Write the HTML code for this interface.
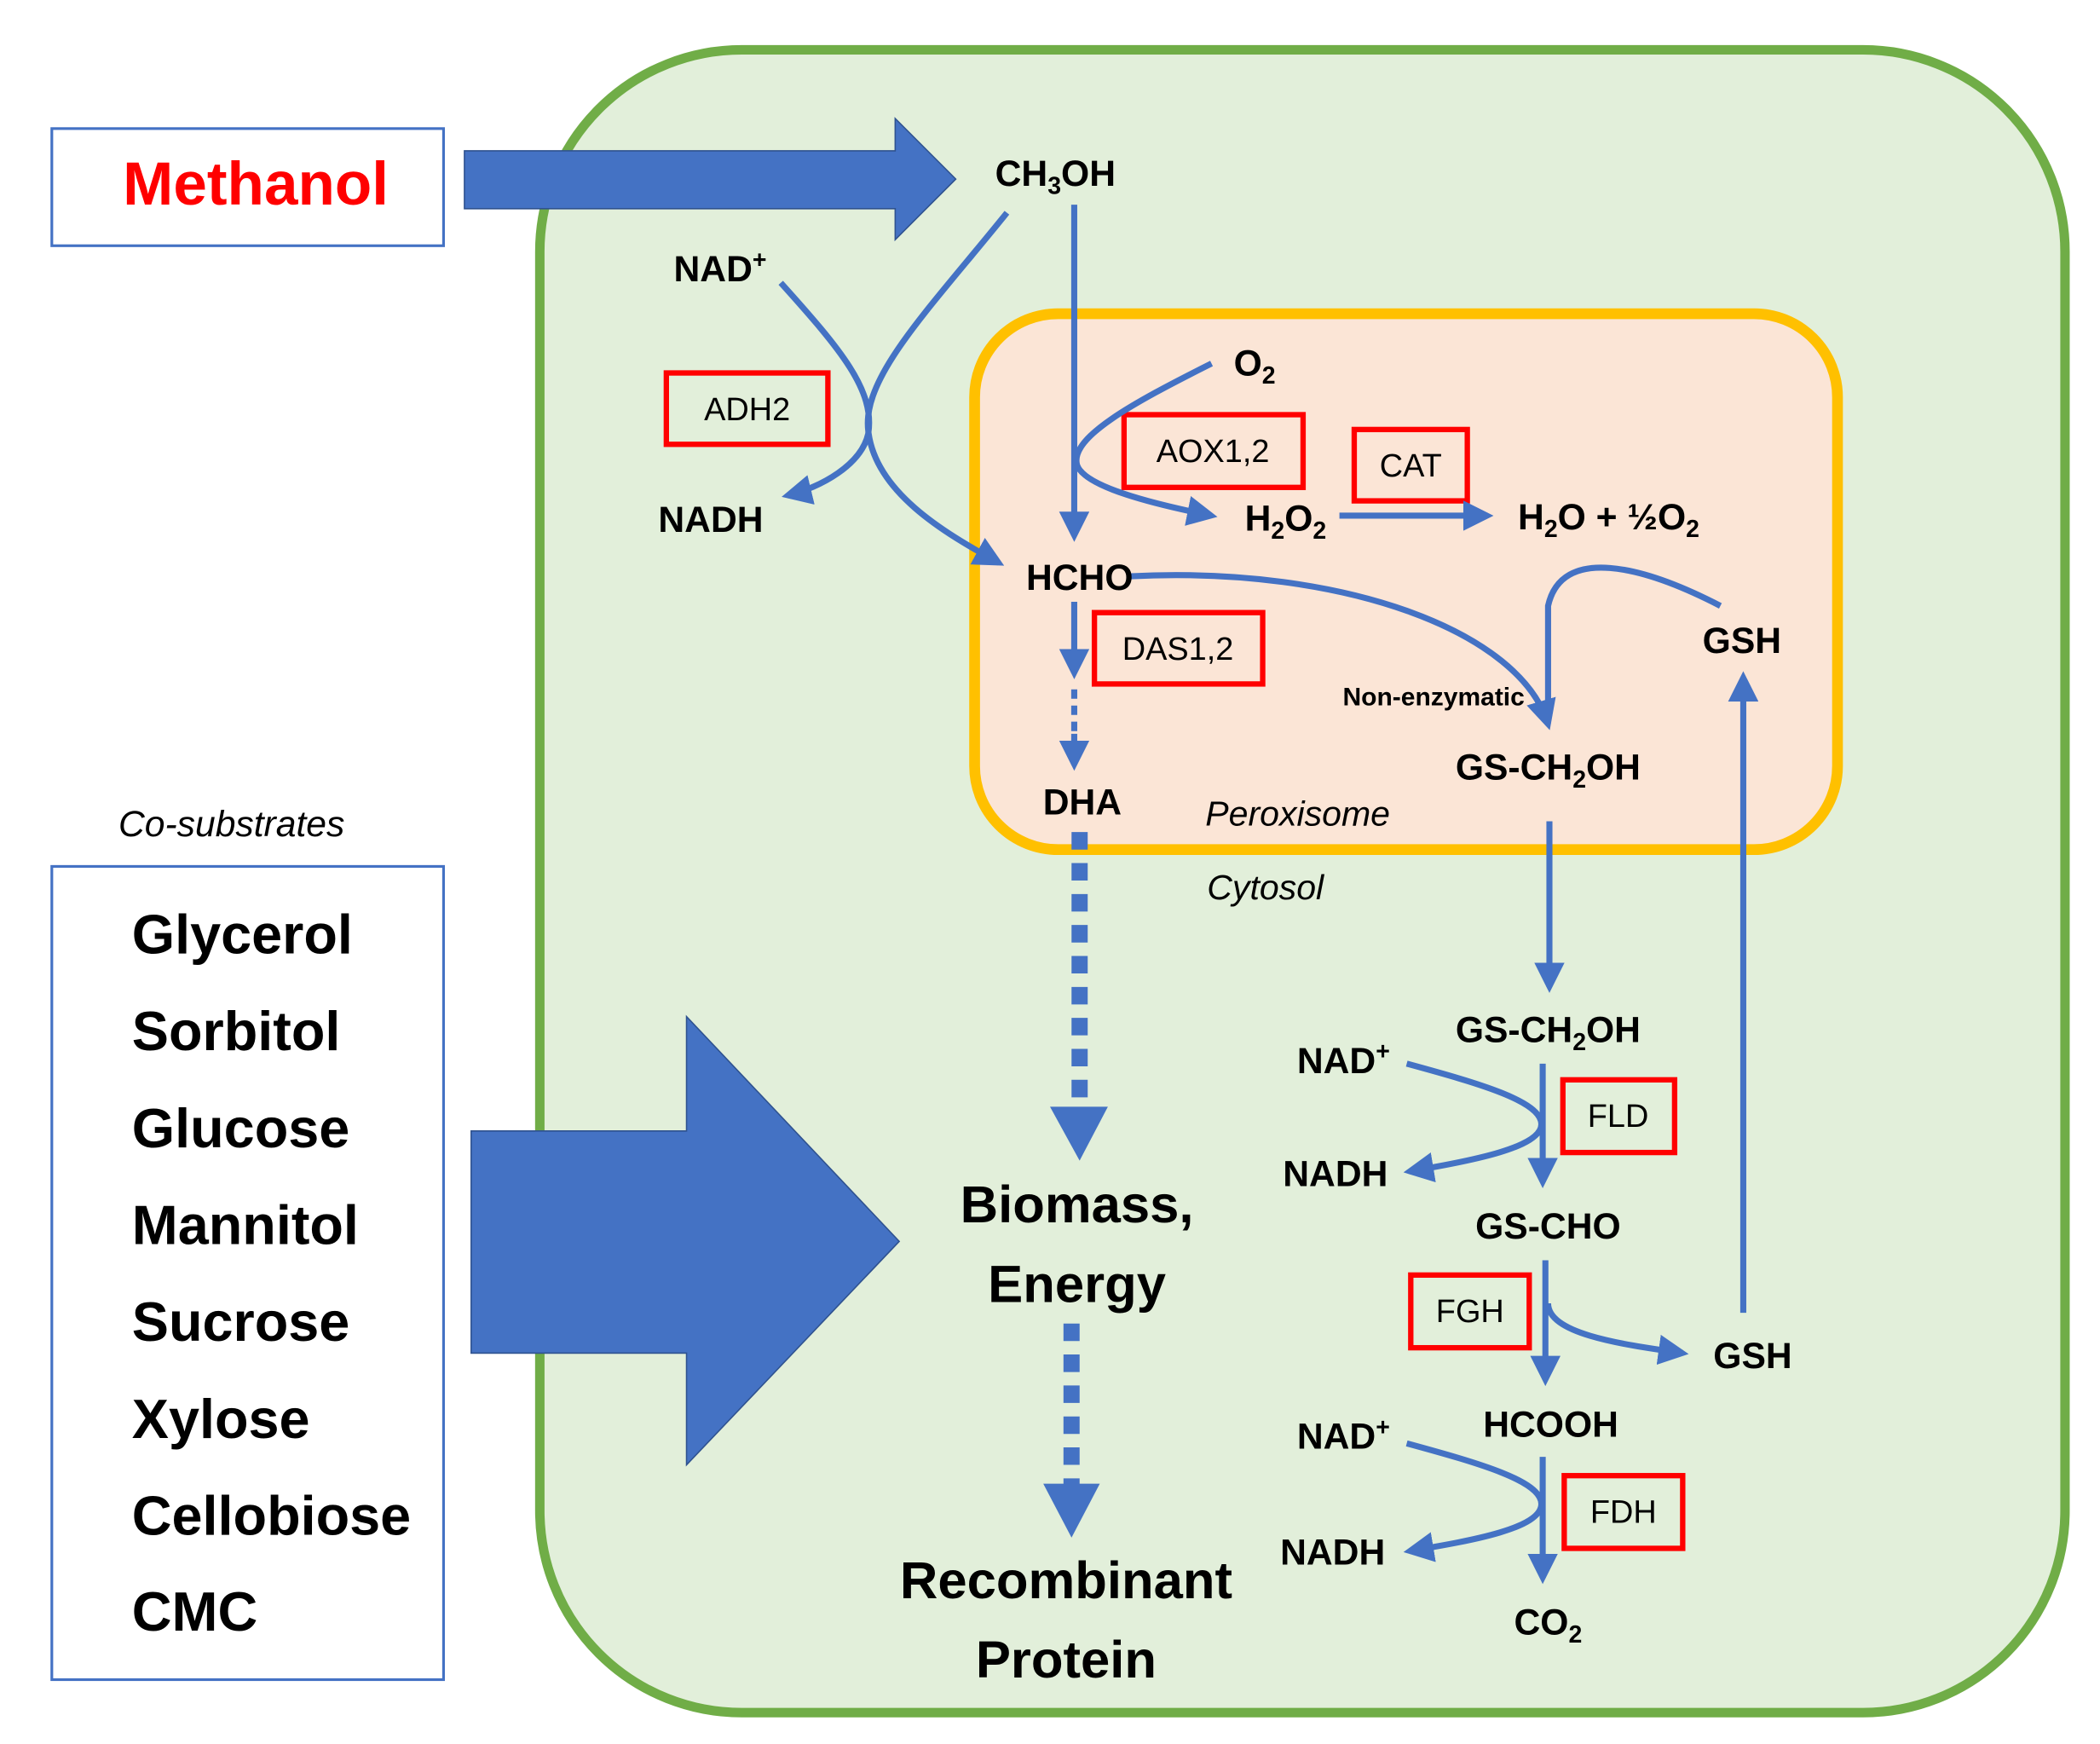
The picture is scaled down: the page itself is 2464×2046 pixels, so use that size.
<!DOCTYPE html>
<html><head><meta charset="utf-8"><style>
html,body{margin:0;padding:0;background:#fff;}
svg{display:block;}
text{font-family:"Liberation Sans",sans-serif;font-weight:bold;fill:#000;}
text.n{font-weight:normal;}
</style></head><body>
<svg width="2464" height="2046" viewBox="0 0 1560 1295.3" preserveAspectRatio="none" xmlns="http://www.w3.org/2000/svg">
<defs>
<marker id="a" viewBox="0 0 10 10" refX="8" refY="5" markerWidth="5" markerHeight="5" orient="auto" markerUnits="strokeWidth"><path d="M0,0 L10,5 L0,10 z" fill="#4472C4"/></marker>
</defs>
<rect x="0" y="0" width="1560" height="1296" fill="#fff"/>
<rect x="401" y="37" width="1133" height="1235" rx="150" fill="#E2EFDA" stroke="#70AD47" stroke-width="7"/>
<rect x="724" y="233" width="641" height="398" rx="62" fill="#FBE5D6" stroke="#FFC000" stroke-width="8"/>
<rect x="38.5" y="95.5" width="291" height="87" fill="#fff" stroke="#4472C4" stroke-width="2"/>
<text x="190" y="152" font-size="45" text-anchor="middle" style="fill:#FF0000">Methanol</text>
<polygon points="345,112 665,112 665,88 710,133 665,178 665,155 345,155" fill="#4472C4" stroke="#2F528F" stroke-width="1"/>
<text class="n" x="172" y="621" font-size="27" text-anchor="middle" font-style="italic">Co-substrates</text>
<rect x="38.5" y="643.5" width="291" height="604" fill="#fff" stroke="#4472C4" stroke-width="2"/>
<g font-size="41">
<text x="98" y="708">Glycerol</text>
<text x="98" y="780">Sorbitol</text>
<text x="98" y="852">Glucose</text>
<text x="98" y="924">Mannitol</text>
<text x="98" y="996">Sucrose</text>
<text x="98" y="1068">Xylose</text>
<text x="98" y="1140">Cellobiose</text>
<text x="98" y="1211">CMC</text>
</g>
<polygon points="350,840 510,840 510,755 668,922 510,1088 510,1005 350,1005" fill="#4472C4" stroke="#2F528F" stroke-width="1"/>
<g fill="none" stroke="#FF0000" stroke-width="4">
<rect x="495" y="277" width="120" height="53"/>
<rect x="835" y="308" width="133" height="54"/>
<rect x="1006" y="319" width="84" height="53"/>
<rect x="813" y="455" width="125" height="53"/>
<rect x="1161" y="802" width="83" height="54"/>
<rect x="1048" y="947" width="88" height="54"/>
<rect x="1162" y="1096" width="88" height="54"/>
</g>
<g font-size="24" text-anchor="middle">
<text class="n" x="555" y="312">ADH2</text>
<text class="n" x="901" y="343">AOX1,2</text>
<text class="n" x="1048" y="354">CAT</text>
<text class="n" x="875" y="490">DAS1,2</text>
<text class="n" x="1202" y="837">FLD</text>
<text class="n" x="1092" y="982">FGH</text>
<text class="n" x="1206" y="1131">FDH</text>
</g>
<g fill="none" stroke="#4472C4" stroke-width="4.5">
<line x1="798" y1="152" x2="798" y2="398" marker-end="url(#a)"/>
<path d="M748,158 C690,230 640,280 645,320 C650,365 700,395 742,418" marker-end="url(#a)"/>
<path d="M580,210 C625,260 650,290 645,322 C640,345 610,362 585,368" marker-end="url(#a)"/>
<path d="M900,270 C840,300 795,325 800,345 C805,362 860,375 900,383" marker-end="url(#a)"/>
<line x1="995" y1="383" x2="1105" y2="383" marker-end="url(#a)"/>
<path d="M840,428 C1000,420 1130,470 1150,538" marker-end="url(#a)"/>
<path d="M1278,450 C1220,420 1160,405 1150,450 L1150,535"/>
<line x1="798" y1="447" x2="798" y2="500" marker-end="url(#a)"/>
<line x1="798" y1="512" x2="798" y2="545" stroke-dasharray="7,5"/>
<line x1="798" y1="545" x2="798" y2="568" marker-end="url(#a)"/>
<line x1="1151" y1="610" x2="1151" y2="733" marker-end="url(#a)"/>
<line x1="1295" y1="975" x2="1295" y2="503" marker-end="url(#a)"/>
<line x1="1146" y1="790" x2="1146" y2="878" marker-end="url(#a)"/>
<path d="M1045,790 C1100,805 1145,818 1145,835 C1145,852 1095,862 1047,870" marker-end="url(#a)"/>
<line x1="1148" y1="936" x2="1148" y2="1025" marker-end="url(#a)"/>
<path d="M1150,968 C1150,990 1200,998 1250,1005" marker-end="url(#a)"/>
<line x1="1146" y1="1082" x2="1146" y2="1172" marker-end="url(#a)"/>
<path d="M1045,1072 C1100,1087 1145,1100 1145,1117 C1145,1135 1095,1144 1047,1152" marker-end="url(#a)"/>
</g>
<line x1="802" y1="618" x2="802" y2="828" stroke="#4472C4" stroke-width="12" stroke-dasharray="13,10"/>
<polygon points="780,822 823,822 802,862" fill="#4472C4"/>
<line x1="796" y1="983" x2="796" y2="1105" stroke="#4472C4" stroke-width="12" stroke-dasharray="13,10"/>
<polygon points="775,1102 817,1102 796,1142" fill="#4472C4"/>
<g font-size="27" text-anchor="middle">
<text x="784" y="138">CH<tspan font-size="18" dy="6">3</tspan><tspan dy="-6">OH</tspan></text>
<text x="535" y="209">NAD<tspan font-size="18" dy="-10">+</tspan></text>
<text x="528" y="395">NADH</text>
<text x="932" y="279">O<tspan font-size="18" dy="6">2</tspan></text>
<text x="955" y="394">H<tspan font-size="18" dy="6">2</tspan><tspan dy="-6">O</tspan><tspan font-size="18" dy="6">2</tspan></text>
<text x="1195" y="393">H<tspan font-size="18" dy="6">2</tspan><tspan dy="-6">O + ½O</tspan><tspan font-size="18" dy="6">2</tspan></text>
<text x="802" y="438">HCHO</text>
<text x="1294" y="485">GSH</text>
<text x="1150" y="579">GS-CH<tspan font-size="18" dy="6">2</tspan><tspan dy="-6">OH</tspan></text>
<text x="804" y="605">DHA</text>
<text x="1150" y="774">GS-CH<tspan font-size="18" dy="6">2</tspan><tspan dy="-6">OH</tspan></text>
<text x="998" y="797">NAD<tspan font-size="18" dy="-10">+</tspan></text>
<text x="992" y="881">NADH</text>
<text x="1150" y="920">GS-CHO</text>
<text x="1302" y="1016">GSH</text>
<text x="998" y="1076">NAD<tspan font-size="18" dy="-10">+</tspan></text>
<text x="1152" y="1067">HCOOH</text>
<text x="990" y="1162">NADH</text>
<text x="1150" y="1214">CO<tspan font-size="18" dy="6">2</tspan></text>
</g>
<text x="1065" y="524" font-size="19" text-anchor="middle">Non-enzymatic</text>
<text class="n" x="964" y="613" font-size="26" text-anchor="middle" font-style="italic">Peroxisome</text>
<text class="n" x="940" y="668" font-size="26" text-anchor="middle" font-style="italic">Cytosol</text>
<g font-size="39" text-anchor="middle">
<text x="800" y="908">Biomass,</text>
<text x="800" y="967">Energy</text>
<text x="792" y="1187">Recombinant</text>
<text x="792" y="1246">Protein</text>
</g>
</svg>
</body></html>
